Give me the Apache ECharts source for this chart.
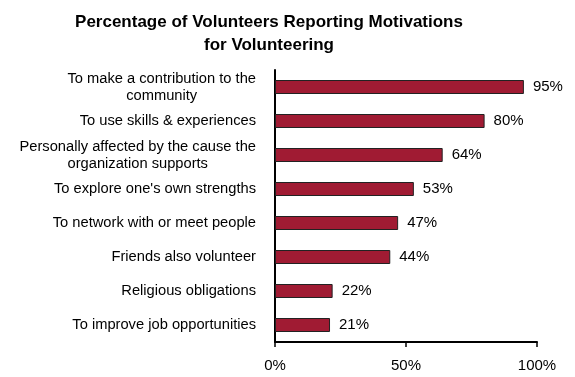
<!DOCTYPE html>
<html>
<head>
<meta charset="utf-8">
<script src="https://cdn.jsdelivr.net/npm/echarts@6/dist/echarts.min.js"></script>
<style>html,body{margin:0;padding:0;background:#fff;}#c{width:575px;height:377px;}</style>
</head>
<body>
<div id="c"></div>
<script>
const titleText = "Percentage of Volunteers Reporting Motivations\nfor Volunteering";
const categories = [
  "To make a contribution to the\ncommunity",
  "To use skills & experiences",
  "Personally affected by the cause the\norganization supports",
  "To explore one's own strengths",
  "To network with or meet people",
  "Friends also volunteer",
  "Religious obligations",
  "To improve job opportunities"
];
const values = [95, 80, 64, 53, 47, 44, 22, 21];
const xTicks = [0, 50, 100];

const FONT = 'Liberation Sans, Arial';
const chart = echarts.init(document.getElementById('c'), null, {renderer: 'canvas'});
chart.setOption({
  animation: false,
  backgroundColor: '#fff',
  title: {
    text: titleText,
    left: 264,
    top: 6,
    textAlign: 'center',
    textStyle: {fontFamily: FONT, fontSize: 17, fontWeight: 'bold', color: '#000', lineHeight: 23}
  },
  grid: {left: 275, top: 70, width: 262, height: 272, containLabel: false},
  xAxis: {
    type: 'value', min: 0, max: 100, interval: 50,
    axisLine: {show: true, lineStyle: {color: '#000', width: 2}},
    axisTick: {show: true, length: 5, lineStyle: {color: '#000', width: 1.5}},
    splitLine: {show: false},
    axisLabel: {formatter: v => xTicks.includes(v) ? v + '%' : '', margin: 16, fontFamily: FONT, fontSize: 15, color: '#000'}
  },
  yAxis: {
    type: 'category', data: categories, inverse: true,
    axisLine: {show: true, lineStyle: {color: '#000', width: 2}},
    axisTick: {show: false},
    axisLabel: {
      margin: 19, align: 'right', color: '#000',
      formatter: v => v.split('\n').map(s => '{c|' + s + '}').join('\n'),
      rich: {c: {align: 'center', fontFamily: FONT, fontSize: 14.7, color: '#000', lineHeight: 17}}
    }
  },
  series: [{
    type: 'bar', data: values, barWidth: 14,
    itemStyle: {color: '#A01B33', borderColor: '#222', borderWidth: 1},
    label: {show: true, position: 'right', distance: 9, formatter: p => p.value + '%', fontFamily: FONT, fontSize: 15, color: '#000'}
  }]
});
</script>
</body>
</html>
